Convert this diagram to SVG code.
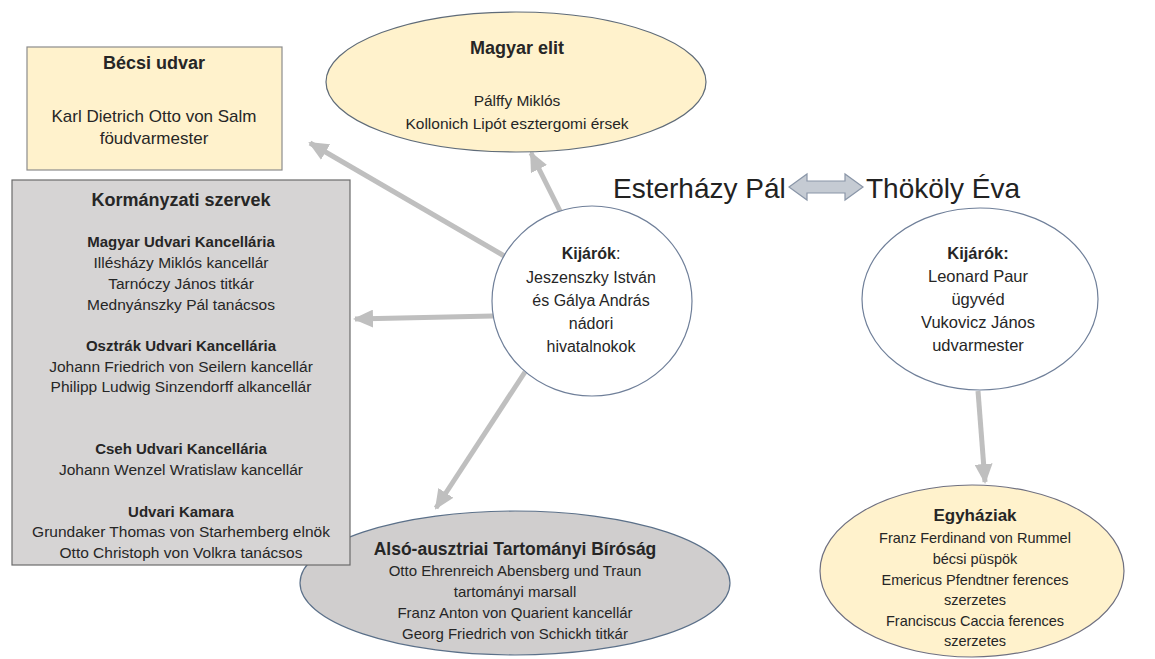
<svg xmlns="http://www.w3.org/2000/svg" width="1155" height="659" viewBox="0 0 1155 659">
<style>
text{font-family:"Liberation Sans",Arial,sans-serif;fill:#262626;text-anchor:middle}
.b{font-weight:bold}
.s145{font-size:14.5px}
.s155{font-size:15.5px}
.s15{font-size:15px}
.s16{font-size:16px}
.s165{font-size:16.5px}
.s17{font-size:17px}
.s175{font-size:17.5px}
.s18{font-size:18px}
.big{font-size:28px;text-anchor:start;fill:#222}
.yel{fill:#FFF2CC}
.conn line{stroke:#BFBFBF;stroke-width:5;marker-end:url(#ah)}
</style>
<defs>
<marker id="ah" markerUnits="userSpaceOnUse" markerWidth="20" markerHeight="18" refX="18" refY="9" orient="auto">
<path d="M0,0 L20,9 L0,18 Z" fill="#BFBFBF"/>
</marker>
</defs>
<rect width="1155" height="659" fill="#fff"/>
<g class="conn" id="connectors">
<line x1="506" y1="257" x2="310" y2="143"/>
<line x1="560" y1="211" x2="531" y2="153"/>
<line x1="493" y1="316" x2="355" y2="319"/>
<line x1="525" y1="372" x2="436" y2="508"/>
<line x1="978" y1="391" x2="985" y2="482"/>
</g>
<g id="also">
<ellipse cx="515" cy="583" rx="215" ry="72" fill="#D0CECE" stroke="#5B7089" stroke-width="1.2"/>
<text x="515" y="555" class="b s175">Alsó-ausztriai Tartományi Bíróság</text>
<text x="515" y="576" class="s15">Otto Ehrenreich Abensberg und Traun</text>
<text x="515" y="597" class="s15">tartományi marsall</text>
<text x="515" y="618" class="s15">Franz Anton von Quarient kancellár</text>
<text x="515" y="639" class="s15">Georg Friedrich von Schickh titkár</text>
</g>
<g id="becsi">
<rect x="27" y="47" width="255" height="123" class="yel" stroke="#8C8C8C" stroke-width="1.2"/>
<text x="154" y="69" class="b s18">Bécsi udvar</text>
<text x="154" y="122" class="s17">Karl Dietrich Otto von Salm</text>
<text x="154" y="144" class="s17">föudvarmester</text>
</g>
<g id="magyar">
<ellipse cx="516" cy="82" rx="190" ry="70" class="yel" stroke="#5F6B78" stroke-width="1.2"/>
<text x="517" y="54" class="b s18">Magyar elit</text>
<text x="517" y="106" class="s155">Pálffy Miklós</text>
<text x="517" y="129" class="s155">Kollonich Lipót esztergomi érsek</text>
</g>
<g id="kormany">
<rect x="12" y="180" width="338" height="385" fill="#D6D4D4" stroke="#6B6B6B" stroke-width="1.2"/>
<text x="181" y="206" class="b s18">Kormányzati szervek</text>
<text x="181" y="247" class="b s15">Magyar Udvari Kancellária</text>
<text x="181" y="268" class="s155">Illésházy Miklós kancellár</text>
<text x="181" y="289" class="s155">Tarnóczy János titkár</text>
<text x="181" y="310" class="s155">Mednyánszky Pál tanácsos</text>
<text x="181" y="351" class="b s15">Osztrák Udvari Kancellária</text>
<text x="181" y="372" class="s155">Johann Friedrich von Seilern kancellár</text>
<text x="181" y="392" class="s155">Philipp Ludwig Sinzendorff alkancellár</text>
<text x="181" y="454" class="b s15">Cseh Udvari Kancellária</text>
<text x="181" y="475" class="s155">Johann Wenzel Wratislaw kancellár</text>
<text x="181" y="517" class="b s15">Udvari Kamara</text>
<text x="181" y="537" class="s155">Grundaker Thomas von Starhemberg elnök</text>
<text x="181" y="558" class="s155">Otto Christoph von Volkra tanácsos</text>
</g>
<g id="kijarok1">
<ellipse cx="592" cy="301" rx="100" ry="95" fill="#fff" stroke="#6F7F99" stroke-width="1.2"/>
<text x="591" y="259" class="s16"><tspan class="b">Kijárók</tspan>:</text>
<text x="591" y="283" class="s16">Jeszenszky István</text>
<text x="591" y="306" class="s16">és Gálya András</text>
<text x="591" y="329" class="s16">nádori</text>
<text x="591" y="352" class="s16">hivatalnokok</text>
</g>
<g id="kijarok2">
<ellipse cx="980" cy="299" rx="118" ry="91" fill="#fff" stroke="#6F7F99" stroke-width="1.2"/>
<text x="978" y="259" class="b s165">Kijárók:</text>
<text x="978" y="282" class="s165">Leonard Paur</text>
<text x="978" y="305" class="s165">ügyvéd</text>
<text x="978" y="328" class="s165">Vukovicz János</text>
<text x="978" y="351" class="s165">udvarmester</text>
</g>
<g id="egyhaziak">
<ellipse cx="972" cy="571" rx="152" ry="86" class="yel" stroke="#6F7080" stroke-width="1.2"/>
<text x="975" y="521" class="b s17">Egyháziak</text>
<text x="975" y="543" class="s145">Franz Ferdinand von Rummel</text>
<text x="975" y="564" class="s145">bécsi püspök</text>
<text x="975" y="585" class="s145">Emericus Pfendtner ferences</text>
<text x="975" y="605" class="s145">szerzetes</text>
<text x="975" y="626" class="s145">Franciscus Caccia ferences</text>
<text x="975" y="646" class="s145">szerzetes</text>
</g>
<g id="esterhazy">
<text x="613" y="198" class="big">Esterházy Pál</text>
</g>
<g id="thokoly">
<text x="866" y="198" class="big">Thököly Éva</text>
</g>
<g id="kapcsolat">
<path d="M789,187 L807,174 L807,181 L845,181 L845,174 L863,187 L845,200 L845,193 L807,193 L807,200 Z" fill="#C5CBD3" stroke="#8A96A8" stroke-width="1.2"/>
</g>
</svg>
